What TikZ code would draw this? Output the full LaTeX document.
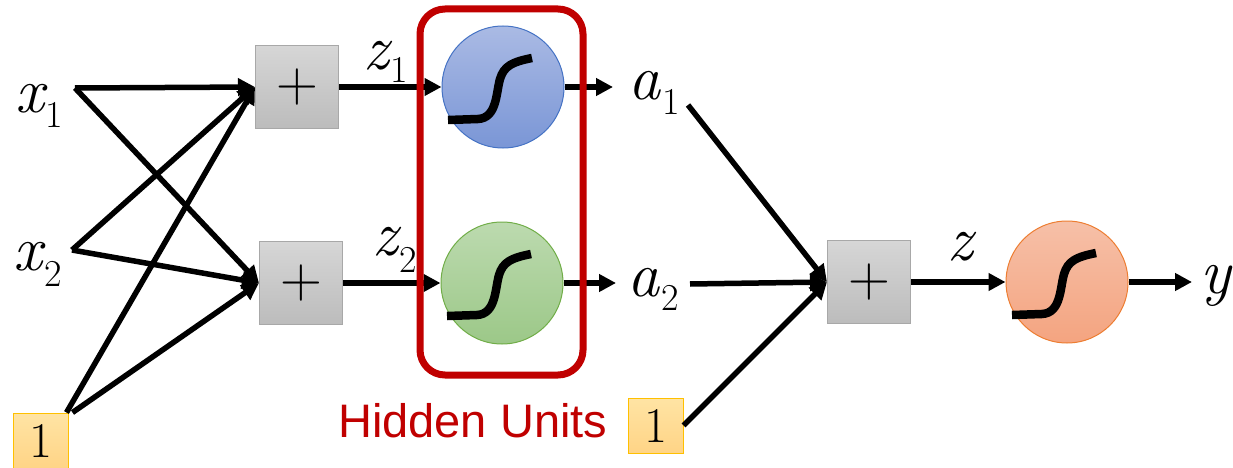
\documentclass[tikz,border=0pt]{standalone}
\usepackage{fontspec}
\setsansfont{Liberation Sans}
\usetikzlibrary{arrows.meta}
\definecolor{hred}{RGB}{192,0,0}
\definecolor{bluetop}{RGB}{170,186,228}
\definecolor{bluebot}{RGB}{122,150,214}
\definecolor{blueline}{RGB}{68,114,196}
\definecolor{greentop}{RGB}{188,218,175}
\definecolor{greenbot}{RGB}{156,200,136}
\definecolor{greenline}{RGB}{112,173,71}
\definecolor{orangetop}{RGB}{246,192,168}
\definecolor{orangebot}{RGB}{244,164,128}
\definecolor{orangeline}{RGB}{237,125,49}
\definecolor{graytop}{RGB}{214,214,214}
\definecolor{graybot}{RGB}{188,188,188}
\definecolor{grayline}{RGB}{168,168,168}
\definecolor{yeltop}{RGB}{255,228,164}
\definecolor{yelbot}{RGB}{255,212,134}
\definecolor{yelline}{RGB}{255,192,0}
\newcommand\bigit[1]{{\rmfamily\itshape\fontsize{64}{64}\selectfont #1}}
\newcommand\subs[2]{\raisebox{-#1pt}{\rmfamily\upshape\fontsize{38}{38}\selectfont\hspace{2pt}#2}}
\begin{document}
\begin{tikzpicture}[x=1pt,y=-1pt,
  arr/.style={line width=5.5pt,-{Triangle[length=17pt,width=17pt]}},
  sumbox/.style={draw=grayline,line width=1pt,top color=graytop,bottom color=graybot,minimum size=83pt,inner sep=0pt,font=\rmfamily\fontsize{58}{58}\selectfont},
  onebox/.style={draw=yelline,line width=1pt,top color=yeltop,bottom color=yelbot,minimum size=55pt,inner sep=0pt,font=\rmfamily\fontsize{50}{50}\selectfont},
  unit/.style={circle,line width=1pt,minimum size=122pt,inner sep=0pt},
  lbl/.style={anchor=base west,inner sep=0pt},
  sigline/.style={line width=8.5pt}]
\useasboundingbox (0,0) rectangle (1233,468);
% labels
\node[lbl] (x1) at (15,113) {\bigit{x}\subs{15}{1}};
\node[lbl] (x2) at (13,270) {\bigit{x}\subs{16}{2}};
\node[onebox] (one1) at (40.5,440.5) {1};
\coordinate (x1o) at (75,88);
\coordinate (x2o) at (72,250);
% sum boxes
\node[sumbox] (p1) at (297,87) {+};
\node[sumbox] (p2) at (301,283) {+};
\node[sumbox] (p3) at (869,282) {+};
% units
\node[unit,draw=blueline,top color=bluetop,bottom color=bluebot] (c1) at (503,87) {};
\node[unit,draw=greenline,top color=greentop,bottom color=greenbot] (c2) at (502,283) {};
\node[unit,draw=orangeline,top color=orangetop,bottom color=orangebot] (c3) at (1067,282) {};
\foreach \c in {c1,c2,c3}{
  \draw[sigline,shift={(\c.center)}] (-55,33) -- (-25,32) .. controls (-6,31) and (-7,6) .. (-3,-8) .. controls (1,-21) and (9,-25) .. (29,-29);
}
% input edges
\draw[arr] (x1o) -- (p1.west);
\draw[arr] (x1o) -- (p2.west);
\draw[arr] (x2o) -- (p1.west);
\draw[arr] (x2o) -- (p2.west);
\draw[arr] ([xshift=-2pt]one1.north east) -- (p1.west);
\draw[arr] ([xshift=4pt]one1.north east) -- (p2.west);
% z labels
\node[lbl] (z1) at (363,70) {\bigit{z}\subs{13}{1}};
\node[lbl] (z2) at (372,255) {\bigit{z}\subs{17}{2}};
\draw[arr] (p1.east) -- (c1.west);
\draw[arr] (p2.east) -- (c2.west);
% outputs of hidden units
\coordinate (a1in) at (613,87);
\coordinate (a2in) at (616,283);
\draw[arr] (c1.east) -- (a1in);
\draw[arr] (c2.east) -- (a2in);
\node[lbl] (a1) at (628,100) {\bigit{a}\subs{15}{1}};
\node[lbl] (a2) at (627,296) {\bigit{a}\subs{14}{2}};
% red box
\node[lbl,text=hred,font=\sffamily\fontsize{47}{47}\selectfont] (hu) at (338,437) {Hidden Units};
\draw[hred,line width=7pt,rounded corners=25pt] (420,9) rectangle (583,375);
\node[onebox] (one2) at (655.5,425.5) {1};
% output layer
\coordinate (a1o) at (688,105);
\coordinate (a2o) at (690,284);
\draw[arr] (a1o) -- (p3.west);
\draw[arr] (a2o) -- (p3.west);
\draw[arr] (one2.east) -- (p3.west);
\node[lbl] (z) at (947,260) {\bigit{z}};
\draw[arr] (p3.east) -- (c3.west);
\coordinate (yin) at (1192,282);
\draw[arr] (c3.east) -- (yin);
\node[lbl] (y) at (1200,293) {\bigit{y}};
\end{tikzpicture}
\end{document}
